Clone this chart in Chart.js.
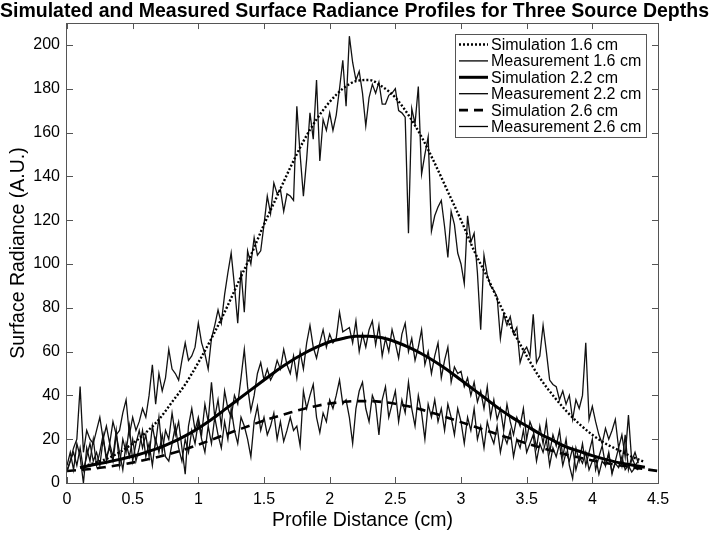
<!DOCTYPE html>
<html>
<head>
<meta charset="utf-8">
<script src="https://cdn.jsdelivr.net/npm/chart.js@4.4.1/dist/chart.umd.min.js"></script>
<style>
  html, body { margin: 0; padding: 0; background: #fff; }
</style>
</head>
<body>
<canvas id="chart" width="709" height="536"></canvas>
<script>
// x positions of the simulated curves (cm)
const simX = [0, 0.1, 0.2, 0.3, 0.4, 0.5, 0.6, 0.7, 0.8, 0.9,
  1.0, 1.1, 1.2, 1.3, 1.4, 1.5, 1.6, 1.7, 1.8, 1.9,
  2.0, 2.1, 2.2, 2.3, 2.4, 2.5, 2.6, 2.7, 2.8, 2.9,
  3.0, 3.1, 3.2, 3.3, 3.4, 3.5, 3.6, 3.7, 3.8, 3.9,
  4.0, 4.1, 4.2, 4.3, 4.4, 4.5]

const sim16 = [null, 7, 9, 11, 14, 18, 23, 29, 37, 45,
  55, 66, 78, 91, 104, 118, 131, 144, 156, 166,
  174, 180, 183.5, 184, 181, 176, 168, 158, 146, 133,
  120, 106, 94, 81, 69, 58, 48, 40, 33, 27,
  22, 18, 15, 12, 9.5, null]

const sim22 = [null, 7, 8.3, 9.5, 10.8, 12.2, 14, 16, 18.5, 21.5,
  25, 29, 33.5, 38, 42.5, 47, 51.5, 55.5, 59, 62,
  64.5, 66, 67, 67, 66.3, 64.5, 62, 59, 55.5, 51.5,
  47, 42.5, 38, 33.5, 29.5, 26, 22.5, 19.5, 16.5, 14.5,
  12.5, 10.8, 9.3, 8.2, 7.2, null]

const sim26 = [5.5, 6, 6.5, 7.3, 8.2, 9.3, 10.6, 12, 13.6, 15.4,
  17.5, 19.7, 22, 24.2, 26.4, 28.5, 30.4, 32.2, 33.8, 35.2,
  36.3, 37, 37.4, 37.4, 37, 36.2, 35, 33.5, 31.7, 29.8,
  27.8, 25.8, 23.8, 21.8, 19.9, 18.1, 16.3, 14.6, 13, 11.6,
  10.3, 9.1, 8.1, 7.2, 6.3, 5.5]

// measured profiles, sampled every 0.025 cm from 0 to 4.35 cm
const measStep = 0.025

const meas16 = [5, 10, 16, 20, 44, 14, 24, 20, 18, 24,
  30, 20, 26, 18, 28, 22, 24, 32, 38, 22,
  30, 24, 28, 34, 30, 40, 54, 36, 50, 42,
  48, 61, 52, 50, 47, 56, 64, 56, 58, 62,
  73, 64, 59, 52, 66, 72, 79, 73, 86, 96,
  105, 90, 73, 97, 78, 106, 100, 112, 104, 106,
  118, 131, 123, 137, 132, 134, 124, 132, 131, 129,
  172, 150, 131, 148, 169, 157, 184, 147, 166, 161,
  169, 161, 168, 180, 193, 172, 204, 192, 184, 188,
  178, 163, 176, 182, 178, 183, 173, 173, 177, 178,
  180, 170, 169, 167, 114, 171, 164, 181, 141, 150,
  158, 115, 122, 126, 129, 117, 103, 124, 118, 105,
  100, 91, 122, 110, 114, 96, 70, 104, 95, 90,
  88, 85, 66, 77, 72, 76, 68, 71, 55, 60,
  62, 58, 77, 55, 58, 72, 60, 47, 45, 44,
  38, 42, 36, 40, 29, 38, 34, 40, 64, 29,
  35, 28, 22, 18, 25, 20, 24, 29, 16, 22,
  12, 31, 10, 14, 9]

const meas22 = [8, 14, 6, 18, 12, 0, 16, 10, 20, 8,
  14, 22, 10, 18, 12, 24, 8, 20, 14, 26,
  10, 18, 24, 16, 22, 12, 26, 18, 30, 14,
  24, 20, 32, 22, 28, 16, 4, 26, 34, 24,
  30, 22, 36, 28, 46, 30, 38, 26, 42, 34,
  30, 40, 36, 48, 61, 44, 33, 40, 50, 55,
  47, 52, 47, 50, 56, 52, 61, 54, 50, 58,
  48, 60, 52, 64, 72, 62, 57, 64, 70, 62,
  68, 64, 66, 78, 69, 70, 71, 64, 74, 60,
  68, 62, 70, 74, 63, 72, 58, 66, 60, 70,
  64, 57, 68, 73, 60, 66, 56, 62, 70, 54,
  60, 50, 58, 64, 48, 56, 62, 46, 53, 50,
  51, 44, 48, 40, 46, 37, 42, 34, 44, 30,
  38, 29, 34, 24, 36, 28, 22, 30, 26, 34,
  20, 28, 24, 16, 26, 18, 28, 14, 22, 17,
  24, 12, 20, 8, 2, 16, 10, 18, 8, 14,
  20, 6, 12, 17, 8, 14, 4, 10, 16, 8,
  22, 6, 12, 8, 10]

const meas26 = [6, 10, 14, 8, 16, 6, 12, 18, 10, 14,
  8, 20, 12, 16, 10, 22, 14, 6, 18, 12,
  20, 10, 16, 24, 12, 18, 8, 20, 14, 22,
  12, 10, 18, 26, 16, 10, 20, 14, 24, 18,
  28, 20, 14, 26, 18, 30, 22, 16, 28, 20,
  34, 24, 18, 30, 26, 20, 12, 28, 35, 24,
  30, 22, 26, 32, 20, 28, 19, 24, 30, 24,
  26, 17, 42, 34, 40, 45, 30, 23, 32, 28,
  38, 34, 40, 47, 36, 38, 30, 18, 34, 42,
  46, 34, 28, 40, 36, 22, 38, 44, 30, 36,
  42, 28, 38, 32, 46, 34, 26, 40, 32, 20,
  36, 30, 38, 28, 34, 24, 36, 30, 22, 34,
  28, 18, 30, 24, 34, 20, 26, 16, 28, 22,
  18, 26, 14, 22, 18, 24, 12, 20, 16, 24,
  14, 18, 22, 10, 18, 14, 20, 8, 16, 12,
  18, 8, 14, 10, 16, 6, 12, 9, 14, 6,
  10, 12, 4, 10, 8, 13, 5, 9, 7, 12,
  6, 8, 5, 7, 6]

const seriesLabels = ['Simulation 1.6 cm', 'Measurement 1.6 cm', 'Simulation 2.2 cm',
  'Measurement 2.2 cm', 'Simulation 2.6 cm', 'Measurement 2.6 cm']

const FONT = '"Liberation Sans", Arial, Helvetica, sans-serif'

function simPoints(values) {
  return simX.map((x, i) => ({ x, y: values[i] }))
}
function measPoints(values) {
  return values.map((y, i) => ({ x: i * measStep, y }))
}

const simStyle = { pointRadius: 0, borderColor: '#000', cubicInterpolationMode: 'monotone', spanGaps: false }
const measStyle = { pointRadius: 0, borderColor: '#111', borderWidth: 1.3, tension: 0 }

// inward tick marks on all four sides plus the box
const boxTicks = {
  id: 'boxTicks',
  afterDatasetsDraw(chart) {
    const { ctx, chartArea: a, scales: { x, y } } = chart
    ctx.save()
    ctx.strokeStyle = '#555'
    ctx.lineWidth = 1
    ctx.beginPath()
    x.ticks.forEach((t) => {
      const px = Math.round(x.getPixelForValue(t.value)) + 0.5
      ctx.moveTo(px, a.bottom); ctx.lineTo(px, a.bottom - 6)
      ctx.moveTo(px, a.top); ctx.lineTo(px, a.top + 6)
    })
    y.ticks.forEach((t) => {
      const py = Math.round(y.getPixelForValue(t.value)) + 0.5
      ctx.moveTo(a.left, py); ctx.lineTo(a.left + 6, py)
      ctx.moveTo(a.right, py); ctx.lineTo(a.right - 6, py)
    })
    ctx.stroke()
    ctx.strokeRect(Math.round(a.left) - 0.5, Math.round(a.top) + 0.5,
      Math.round(a.right - a.left) + 1, Math.round(a.bottom - a.top))
    ctx.restore()
  }
}

// legend box inside the plot, upper right
const boxLegend = {
  id: 'boxLegend',
  afterDatasetsDraw(chart) {
    const ctx = chart.ctx
    const x0 = 455, y0 = 34, w = 191, h = 103
    ctx.save()
    ctx.fillStyle = '#fff'
    ctx.fillRect(x0, y0, w, h)
    ctx.strokeStyle = '#555'
    ctx.lineWidth = 1
    ctx.strokeRect(x0 + 0.5, y0 + 0.5, w, h)
    ctx.font = '16px ' + FONT
    ctx.textBaseline = 'middle'
    chart.data.datasets.forEach((ds, i) => {
      const y = y0 + 10.5 + i * 16.4
      ctx.beginPath()
      ctx.setLineDash(ds.borderDash || [])
      ctx.lineWidth = ds.borderWidth
      ctx.strokeStyle = '#000'
      ctx.moveTo(x0 + 4, y)
      ctx.lineTo(x0 + 33, y)
      ctx.stroke()
      ctx.setLineDash([])
      ctx.fillStyle = '#000'
      ctx.fillText(ds.label, x0 + 36, y + 1)
    })
    ctx.restore()
  }
}

Chart.defaults.font.family = FONT
Chart.defaults.color = '#000'

new Chart(document.getElementById('chart').getContext('2d'), {
  type: 'line',
  data: {
    datasets: [
      { ...simStyle, label: seriesLabels[0], data: simPoints(sim16), borderWidth: 2.4, borderDash: [2, 2] },
      { ...measStyle, label: seriesLabels[1], data: measPoints(meas16) },
      { ...simStyle, label: seriesLabels[2], data: simPoints(sim22), borderWidth: 3 },
      { ...measStyle, label: seriesLabels[3], data: measPoints(meas22) },
      { ...simStyle, label: seriesLabels[4], data: simPoints(sim26), borderWidth: 2.6, borderDash: [9, 6] },
      { ...measStyle, label: seriesLabels[5], data: measPoints(meas26) },
    ],
  },
  options: {
    responsive: false,
    animation: false,
    devicePixelRatio: 1,
    layout: { padding: 0 },
    plugins: {
      legend: { display: false },
      tooltip: { enabled: false },
      title: {
        display: true,
        text: 'Simulated and Measured Surface Radiance Profiles for Three Source Depths',
        font: { size: 20.5, weight: 'bold', lineHeight: 1.1 },
        color: '#000',
        padding: { top: 0, bottom: 0.5 },
      },
    },
    scales: {
      x: {
        type: 'linear',
        min: 0,
        max: 4.5,
        grid: { display: true, drawOnChartArea: false, drawTicks: false },
        border: { display: false },
        ticks: {
          stepSize: 0.5, font: { size: 16 }, padding: 7, maxRotation: 0, includeBounds: false,
          callback: (v) => String(v),
        },
        title: { display: true, text: 'Profile Distance (cm)', font: { size: 19.5 }, padding: { top: 0, bottom: 3.3 } },
        afterFit(scale) { scale.height = 53 },
      },
      y: {
        min: 0,
        max: 210,
        grid: { display: true, drawOnChartArea: false, drawTicks: false },
        border: { display: false },
        ticks: { stepSize: 20, font: { size: 16 }, padding: 7, includeBounds: false, callback: (v) => String(v) },
        title: { display: true, text: 'Surface Radiance (A.U.)', font: { size: 19.5 }, padding: { top: 7.3, bottom: 0 } },
        afterFit(scale) { scale.width = 67 },
      },
      // empty right-hand margin
      yRight: {
        type: 'linear',
        position: 'right',
        display: true,
        grid: { display: false },
        border: { display: false },
        ticks: { display: false },
        afterFit(scale) { scale.width = 51 },
      },
    },
  },
  plugins: [boxTicks, boxLegend],
})
</script>
</body>
</html>
